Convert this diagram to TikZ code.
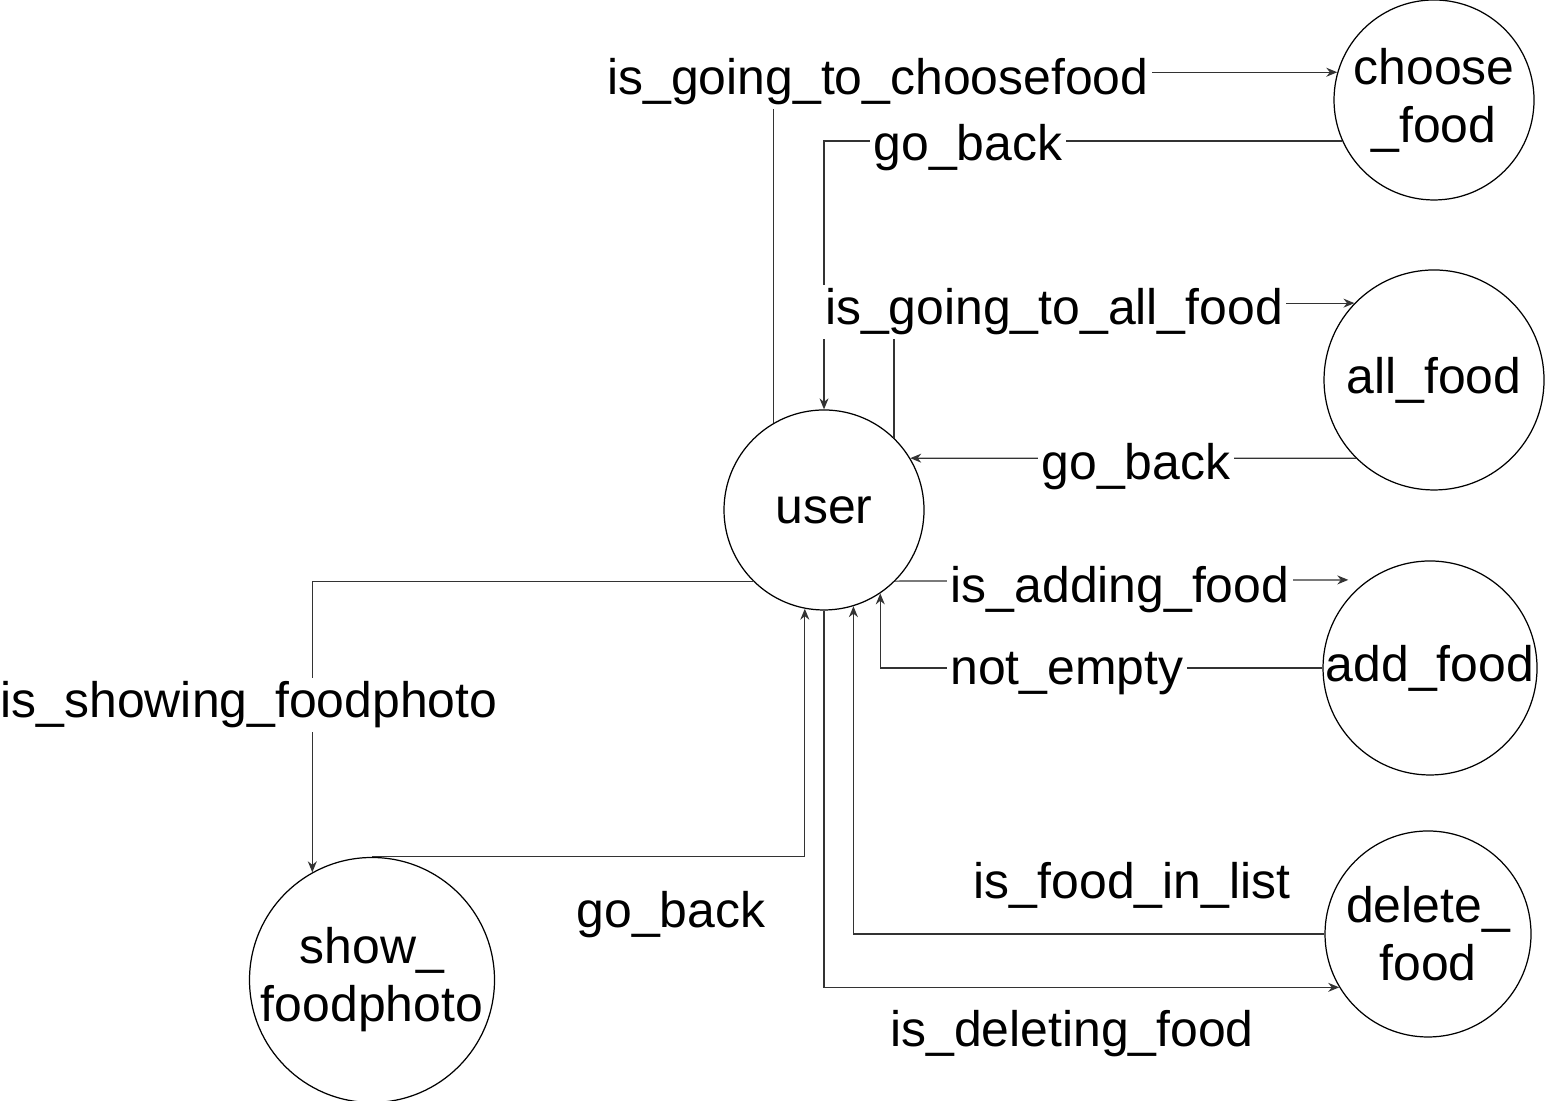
\documentclass[tikz,border=0pt]{standalone}
\usepackage{fontspec}
\setmainfont{Liberation Sans}
\usetikzlibrary{arrows.meta}

\begin{document}
\begin{tikzpicture}
        \tikzstyle{every node}=[font=\fontsize{14.2pt}{16.5pt}\selectfont, text=black, inner sep=0pt]
        \tikzstyle{state}=[circle, draw=black, line width=0.35pt, align=center]
        \tikzstyle{lbl}=[fill=white, inner sep=1pt]
        \tikzstyle{edge}=[black!80, line width=0.35pt, -{Stealth[length=1.1mm,width=0.9mm]}]

        \useasboundingbox (0,0) rectangle (15.45,11.01);

        \node[state, minimum size=2.00cm] (user)   at (8.24,5.91)  {user};
        \node[state, minimum size=2.00cm] (choose) at (14.34,10.01) {choose\\\_food};
        \node[state, minimum size=2.20cm] (all)    at (14.34,7.21)  {all\_food};
        \node[state, minimum size=2.14cm] (add)    at (14.30,4.33)  {add\_food};
        \node[state, minimum size=2.06cm] (delete) at (14.28,1.67)  {delete\_\\food};
        \node[state, minimum size=2.40cm] (show)   at (3.72,1.21)   {show\_\\foodphoto};

        \draw[edge] (user.120) |- (choose.164);
        \draw[edge] (choose.204) -| (user.north);
        \draw[edge] (user.46) |- (all.136);
        \draw[edge] (all.225) -- (user.31);
        \draw[edge, shorten >=2mm] (user.-45) -- (add.125);
        \draw[edge] (add.west) -| (user.-56);
        \draw[edge] (delete.west) -| (user.-73);
        \draw[edge] (user.south) |- (delete.211);
        \draw[edge] (user.-135) -| (show.119);
        \draw[edge] (show.north) -| (user.-101);

        \node[lbl] (l-choose)  at (8.78,10.19) {is\_going\_to\_choosefood};
        \node[lbl] (l-back1)   at (9.68,9.53)  {go\_back};
        \node[lbl] (l-all)     at (10.54,7.89) {is\_going\_to\_all\_food};
        \node[lbl] (l-back2)   at (11.36,6.34) {go\_back};
        \node[lbl] (l-add)     at (11.20,5.11) {is\_adding\_food};
        \node[lbl] (l-empty)   at (10.67,4.27) {not\_empty};
        \node[lbl] (l-show)    at (2.49,3.96)  {is\_showing\_foodphoto};
        \node[lbl] (l-back3)   at (6.71,1.86)  {go\_back};
        \node[lbl] (l-inlist)  at (11.32,2.16) {is\_food\_in\_list};
        \node[lbl] (l-delete)  at (10.72,0.67) {is\_deleting\_food};
\end{tikzpicture}
\end{document}
